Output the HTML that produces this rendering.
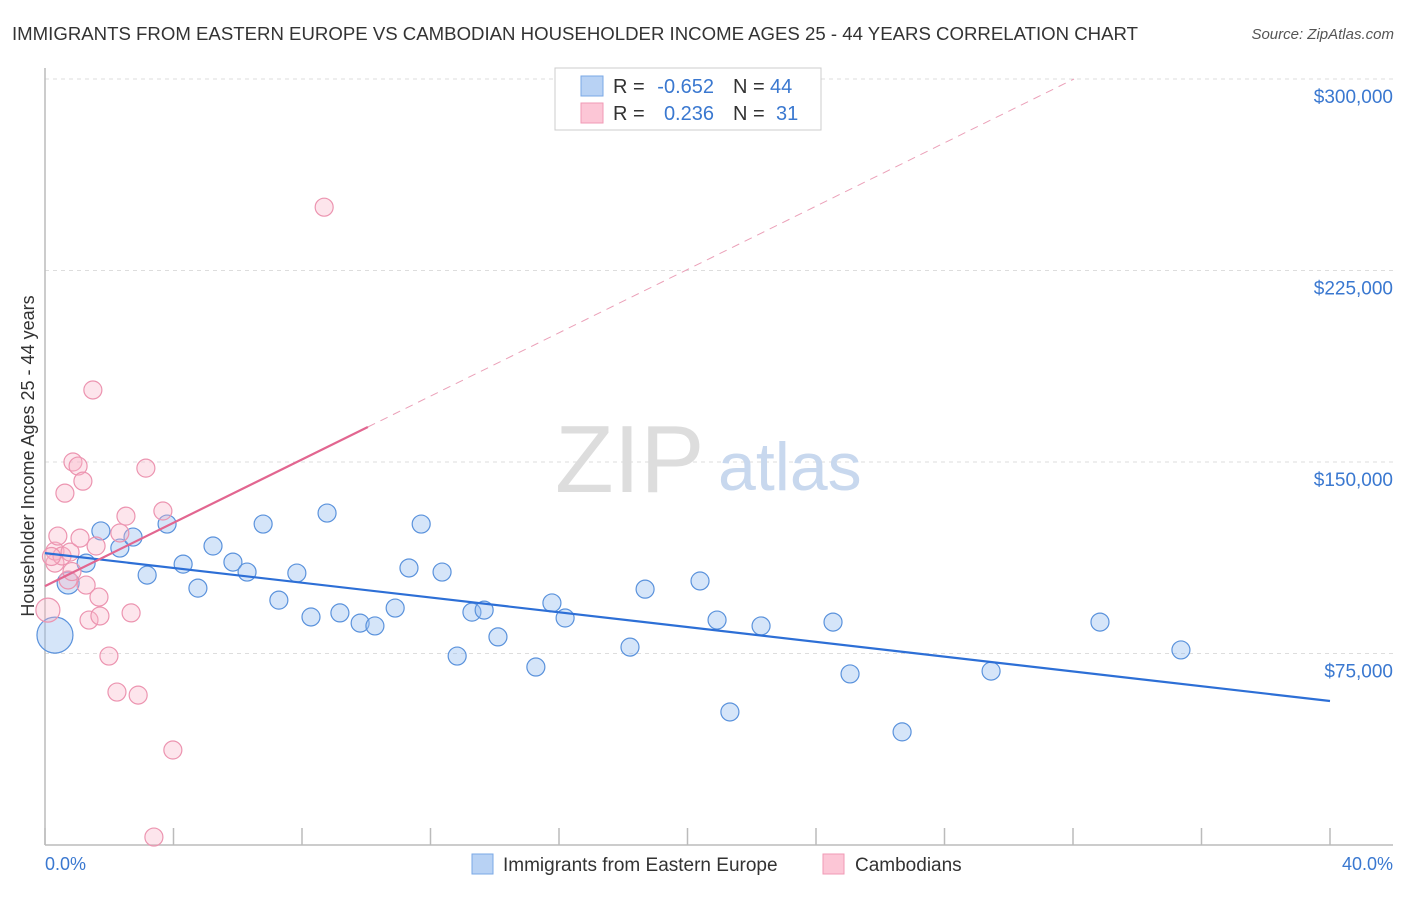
<!DOCTYPE html>
<html><head><meta charset="utf-8"><style>
body{margin:0;background:#fff;font-family:"Liberation Sans",Arial,sans-serif}
svg text{font-family:"Liberation Sans",Arial,sans-serif}
</style></head><body>
<svg width="1406" height="892" xmlns="http://www.w3.org/2000/svg">
<text x="12" y="40" font-size="18" fill="#333" textLength="1126" lengthAdjust="spacingAndGlyphs">IMMIGRANTS FROM EASTERN EUROPE VS CAMBODIAN HOUSEHOLDER INCOME AGES 25 - 44 YEARS CORRELATION CHART</text>
<text x="1394" y="39" font-size="15" fill="#555" font-style="italic" text-anchor="end">Source: ZipAtlas.com</text>
<g id="grid"></g>
<text x="555" y="492" font-size="96" fill="#ddd" font-family="Liberation Serif">ZIP</text>
<text x="718" y="490" font-size="68" fill="#c8d8ee">atlas</text>
<g id="axes"></g>
<g id="pts"></g>
<g id="lines"></g>
<text transform="translate(34,456) rotate(-90)" font-size="18" fill="#333" text-anchor="middle">Householder Income Ages 25 - 44 years</text>
<text x="45" y="870" font-size="18" fill="#3a78d0">0.0%</text>
<text x="1393" y="870" font-size="18" fill="#3a78d0" text-anchor="end">40.0%</text>
<g>
<rect x="555" y="68" width="266" height="62" fill="#fff" stroke="#ccc"/>
<rect x="581" y="76" width="22" height="20" fill="#b8d2f4" stroke="#7aa8e6"/>
<rect x="581" y="103" width="22" height="20" fill="#fcc6d6" stroke="#f09ab5"/>
<text x="613" y="93" font-size="20" fill="#333">R =</text>
<text x="714" y="93" font-size="20" fill="#3a78d0" text-anchor="end">-0.652</text>
<text x="733" y="93" font-size="20" fill="#333">N =</text>
<text x="770" y="93" font-size="20" fill="#3a78d0">44</text>
<text x="613" y="120" font-size="20" fill="#333">R =</text>
<text x="714" y="120" font-size="20" fill="#3a78d0" text-anchor="end">0.236</text>
<text x="733" y="120" font-size="20" fill="#333">N =</text>
<text x="776" y="120" font-size="20" fill="#3a78d0">31</text>
</g>
<g>
<rect x="472" y="854" width="21" height="20" fill="#b8d2f4" stroke="#7aa8e6"/>
<text x="503" y="871" font-size="19" fill="#333">Immigrants from Eastern Europe</text>
<rect x="823" y="854" width="21" height="20" fill="#fcc6d6" stroke="#f09ab5"/>
<text x="855" y="871" font-size="19" fill="#333">Cambodians</text>
</g>
</svg>
<script>
const yTicks=[75000,150000,225000,300000];
const yTickLabels=["$75,000","$150,000","$225,000","$300,000"];
const xTicks=[0,4,8,12,16,20,24,28,32,36,40];
const blueX=[0.31,0.72,1.28,1.74,2.33,2.74,3.18,3.80,4.30,4.76,5.23,5.85,6.29,6.79,7.28,7.84,8.28,8.78,9.18,9.81,10.27,10.90,11.33,11.71,12.36,12.83,13.29,13.67,14.10,15.28,15.78,16.19,18.21,18.68,20.39,20.92,21.32,22.29,24.53,25.06,26.68,29.45,32.84,35.36];
const blueY=[82.2,102.6,110.4,123.0,116.3,120.6,105.7,125.7,110.0,100.6,117.1,110.8,106.9,125.7,95.9,106.5,89.3,130.0,90.9,86.9,85.8,92.8,108.5,125.7,106.9,74.0,91.2,92.0,81.5,69.7,94.8,88.9,77.5,100.2,103.4,88.1,52.1,85.8,87.3,67.0,44.3,68.1,87.3,76.4];
const blueR=[18,11,9,9,9,9,9,9,9,9,9,9,9,9,9,9,9,9,9,9,9,9,9,9,9,9,9,9,9,9,9,9,9,9,9,9,9,9,9,9,9,9,9,9];
const pinkX=[0.09,0.31,0.31,0.40,0.53,0.62,0.72,0.78,0.87,1.03,1.09,1.18,1.28,1.37,1.49,1.59,1.68,1.71,1.99,2.24,2.33,2.52,2.68,2.90,3.14,3.67,3.98,3.39,8.69,0.84,0.20];
const pinkY=[92.0,110.4,115.1,121.0,113.2,137.8,103.8,114.7,150.0,148.4,120.2,142.5,101.8,88.1,178.2,117.1,97.1,89.7,74.0,59.9,122.2,128.8,90.9,58.7,147.6,130.8,37.2,3.1,249.8,107.1,113.0];
const pinkR=[12,9,9,9,9,9,9,9,9,9,9,9,9,9,9,9,9,9,9,9,9,9,9,9,9,9,9,9,9,9,9];
const blueFit=[114.3,-1.4475];
const pinkFit=[101.4,6.2];
const NS="http://www.w3.org/2000/svg";
const sx=v=>45+v/40*1285, sy=v=>845-v/75000*191.5;
function mk(t,a,p){const e=document.createElementNS(NS,t);for(const k in a)e.setAttribute(k,a[k]);p.appendChild(e);return e;}
const grid=document.getElementById('grid'),axes=document.getElementById('axes'),pts=document.getElementById('pts'),lines=document.getElementById('lines');
yTicks.forEach((v,i)=>{
 const l=mk('line',{x1:45,x2:1393,y1:sy(v),y2:sy(v),stroke:'#ddd','stroke-dasharray':'4,4'},grid);
 
 
 const t=mk('text',{x:1393,y:sy(v)+24,'font-size':19,fill:'#3a78d0','text-anchor':'end'},grid);
 t.textContent=yTickLabels[i];
 
 
});
const ya=mk('line',{x1:45,x2:45,y1:68,y2:845,stroke:'#bbb','stroke-width':1.5},axes);


const xa=mk('line',{x1:45,x2:1393,y1:845,y2:845,stroke:'#bbb','stroke-width':1.5},axes);


xTicks.forEach(v=>{
 const t=mk('line',{x1:sx(v),x2:sx(v),y1:828,y2:845,stroke:'#bbb','stroke-width':1.5},axes);
 
 
});
blueX.forEach((x,i)=>{
 const c=mk('circle',{cx:sx(x),cy:sy(blueY[i]*1000),r:blueR[i],fill:'rgba(150,190,240,0.4)',stroke:'#5a92dc','stroke-width':1.2},pts);
 
 
});
pinkX.forEach((x,i)=>{
 const c=mk('circle',{cx:sx(x),cy:sy(pinkY[i]*1000),r:pinkR[i],fill:'rgba(250,180,200,0.35)',stroke:'#ec94b0','stroke-width':1.2},pts);
 
 
});
const bl=mk('line',{x1:sx(0),y1:sy(blueFit[0]*1000),x2:sx(40),y2:sy((blueFit[0]+blueFit[1]*40)*1000),stroke:'#2d6fd6','stroke-width':2.2},lines);


const pe=(300-pinkFit[0])/pinkFit[1];
const pd=mk('line',{x1:sx(10.05),y1:sy((pinkFit[0]+pinkFit[1]*10.05)*1000),x2:sx(pe),y2:sy(300000),stroke:'#eba0b8','stroke-width':1,'stroke-dasharray':'8,6'},lines);


const pl=mk('line',{x1:sx(0),y1:sy(pinkFit[0]*1000),x2:sx(10.05),y2:sy((pinkFit[0]+pinkFit[1]*10.05)*1000),stroke:'#e26690','stroke-width':2.2},lines);


</script>
</body></html>
